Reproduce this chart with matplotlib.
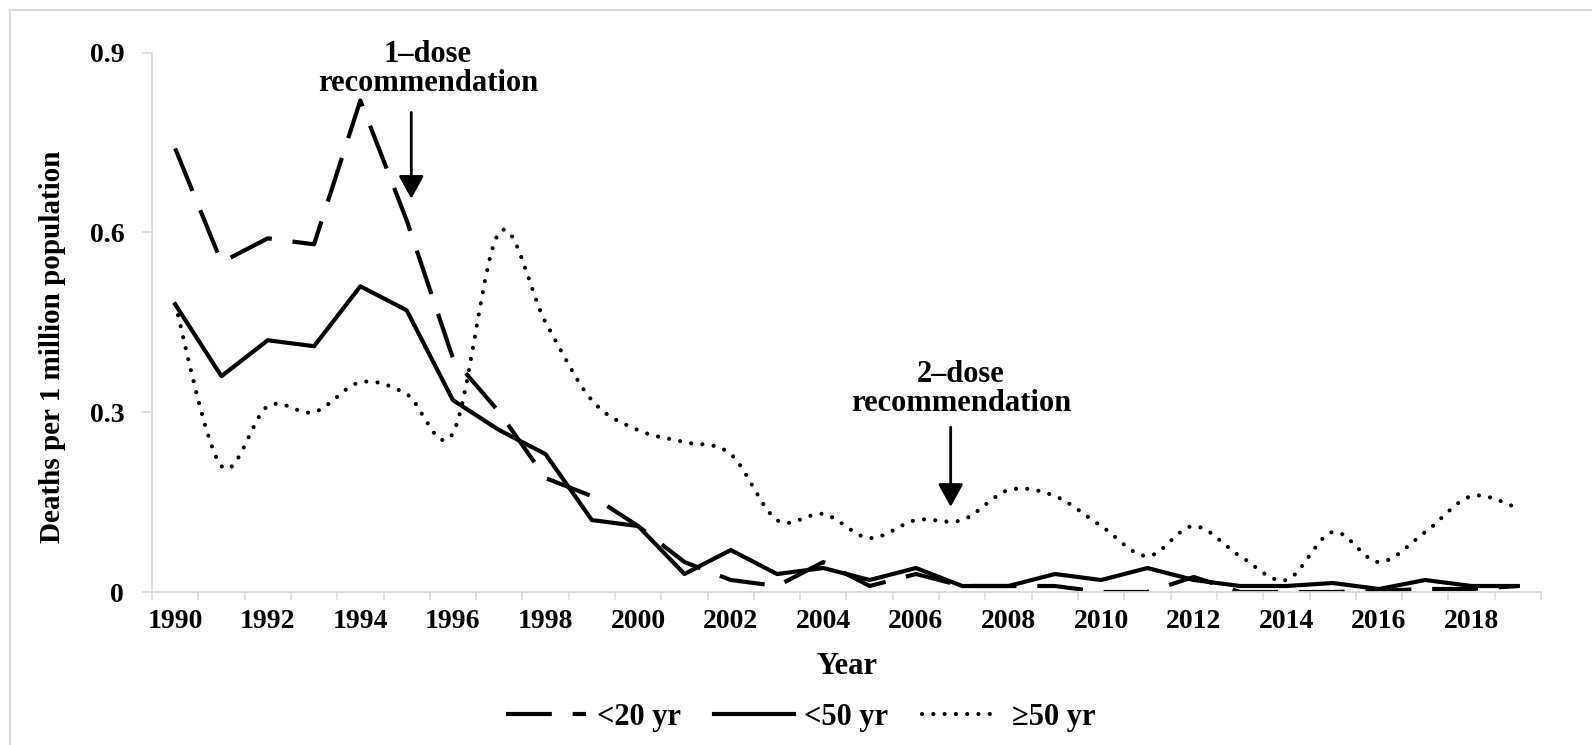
import numpy as np
import matplotlib
matplotlib.use("Agg")
import matplotlib.pyplot as plt
from matplotlib.path import Path
from matplotlib.patches import PathPatch
from matplotlib.lines import Line2D

# ---------------- data ----------------
years = list(range(1990, 2020))
under20 = [0.74, 0.55, 0.59, 0.58, 0.82, 0.62, 0.39, 0.30, 0.19, 0.16,
           0.11, 0.05, 0.02, 0.01, 0.05, 0.01, 0.03, 0.01, 0.01, 0.01,
           0.00, 0.00, 0.025, 0.00, 0.00, 0.00, 0.002, 0.005, 0.005, 0.01]
under50 = [0.48, 0.36, 0.42, 0.41, 0.51, 0.47, 0.32, 0.27, 0.23, 0.12,
           0.11, 0.03, 0.07, 0.03, 0.04, 0.02, 0.04, 0.01, 0.01, 0.03,
           0.02, 0.04, 0.02, 0.01, 0.01, 0.015, 0.005, 0.02, 0.01, 0.01]
over50 = [0.48, 0.21, 0.31, 0.30, 0.35, 0.33, 0.265, 0.60, 0.45, 0.32,
          0.27, 0.25, 0.23, 0.12, 0.13, 0.09, 0.12, 0.12, 0.17, 0.16,
          0.11, 0.06, 0.11, 0.06, 0.02, 0.10, 0.05, 0.10, 0.16, 0.14]
series_labels = ["<20 yr", "<50 yr", "\u226550 yr"]
yticks = [0, 0.3, 0.6, 0.9]
ytick_labels = ["0", "0.3", "0.6", "0.9"]
dose1_year = 1995.1
dose2_year = 2006.75

# ---------------- style ----------------
plt.rcParams['font.family'] = ['Liberation Serif', 'DejaVu Serif']
plt.rcParams['font.weight'] = 'bold'
GRAY = '#d9d9d9'
W, H = 1592, 745

fig = plt.figure(figsize=(W / 100, H / 100), dpi=100)
ax = fig.add_axes([152 / W, 1 - 592 / H, (1541 - 152) / W, (592 - 52.5) / H])

x = np.arange(len(years))
ax.set_xlim(-0.5, len(years) - 0.5)
ax.set_ylim(0, 0.9)

lw = 3.0
ax.plot(x, under20, color='k', lw=lw, ls=(0, (11, 5)), dash_capstyle='butt',
        solid_joinstyle='round')
ax.plot(x, under50, color='k', lw=lw, solid_joinstyle='round')

# smoothed dotted line (Excel-style smoothing through the data points)
pts = np.column_stack([x, over50]).astype(float)
n = len(pts)
verts = [pts[0]]
codes = [Path.MOVETO]
for i in range(n - 1):
    p0 = pts[i]
    p1 = pts[i + 1]
    pm = pts[i - 1] if i > 0 else pts[i]
    pp = pts[i + 2] if i + 2 < n else pts[i + 1]
    c1 = p0 + (p1 - pm) / 6.0
    c2 = p1 - (pp - p0) / 6.0
    verts += [c1, c2, p1]
    codes += [Path.CURVE4] * 3
dot_style = (0, (0.01, 2.7))
patch = PathPatch(Path(verts, codes), fill=False, edgecolor='k', lw=lw,
                  ls=dot_style, capstyle='round')
ax.add_patch(patch)

# axes styling
for s in ['top', 'right']:
    ax.spines[s].set_visible(False)
for s in ['left', 'bottom']:
    ax.spines[s].set_color(GRAY)
    ax.spines[s].set_linewidth(1.3)

ax.set_xticks(np.arange(-0.5, len(years), 1.0))
ax.set_xticklabels([])
ax.tick_params(axis='x', which='major', length=6, width=1.2, color=GRAY)
ax.set_xticks(x[::2], minor=True)
ax.set_xticklabels([str(y) for y in years[::2]], minor=True)
ax.tick_params(axis='x', which='minor', length=0, pad=12, labelsize=20)

ax.set_yticks(yticks)
ax.set_yticklabels(ytick_labels)
ax.tick_params(axis='y', length=7, width=1.2, color=GRAY, pad=13, labelsize=20)

fig.text(53 / W, 1 - 347 / H, "Deaths per 1 million population", rotation=90,
         ha='center', va='center', fontsize=21, fontweight='bold')
fig.text(847 / W, 1 - 667 / H, "Year", ha='center', va='center',
         fontsize=22, fontweight='bold')

# annotations
def yr(v):
    return v - years[0]

ax.text(5.46, 0.873, "1\u2013dose\nrecommendation", ha='center', va='center',
        fontsize=22, fontweight='bold', linespacing=1.0)
ax.annotate('', xy=(yr(dose1_year), 0.656), xytext=(yr(dose1_year), 0.80),
            arrowprops=dict(arrowstyle='-|>,head_length=0.4,head_width=0.22',
                            color='k', lw=2, mutation_scale=35,
                            shrinkA=0, shrinkB=0))
ax.text(16.97, 0.339, "2\u2013dose\nrecommendation", ha='center', va='center',
        fontsize=22, fontweight='bold', linespacing=1.0)
ax.annotate('', xy=(yr(dose2_year), 0.142), xytext=(yr(dose2_year), 0.275),
            arrowprops=dict(arrowstyle='-|>,head_length=0.4,head_width=0.22',
                            color='k', lw=2, mutation_scale=35,
                            shrinkA=0, shrinkB=0))

# legend
handles = [
    Line2D([], [], color='k', lw=lw, ls=(0, (11, 5)), dash_capstyle='butt'),
    Line2D([], [], color='k', lw=lw),
    Line2D([], [], color='k', lw=lw, ls=dot_style, dash_capstyle='round'),
]
fig.legend(handles, series_labels, loc='center', bbox_to_anchor=(801 / W, 1 - 717 / H),
           ncol=3, frameon=False, fontsize=22, handlelength=2.6,
           handletextpad=0.35, columnspacing=1.1, borderaxespad=0)

# chart area border (top and left edges visible)
fig.add_artist(Line2D([10 / W, 1], [1 - 10 / H, 1 - 10 / H], transform=fig.transFigure,
                      color=GRAY, lw=1.5))
fig.add_artist(Line2D([10 / W, 10 / W], [0, 1 - 10 / H], transform=fig.transFigure,
                      color=GRAY, lw=1.5))

fig.savefig("out.png", dpi=100)
